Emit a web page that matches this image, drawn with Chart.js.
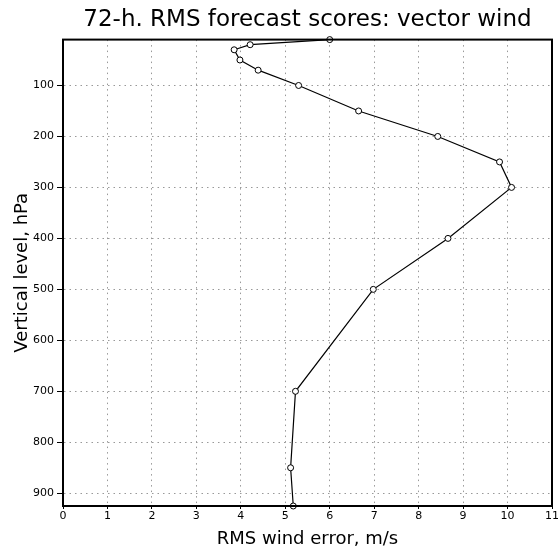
<!DOCTYPE html>
<html>
<head>
<meta charset="utf-8">
<script src="https://cdn.jsdelivr.net/npm/chart.js@4/dist/chart.umd.min.js"></script>
<style>
html,body{margin:0;padding:0;background:#fff;}
#wrap{width:560px;height:554px;}
</style>
</head>
<body>
<div id="wrap"><canvas id="c" width="560" height="554"></canvas></div>
<script>
const levels = [10, 20, 30, 50, 70, 100, 150, 200, 250, 300, 400, 500, 700, 850, 925];
const rmsError = [6.0, 4.21, 3.85, 3.98, 4.39, 5.30, 6.65, 8.43, 9.82, 10.09, 8.66, 6.98, 5.23, 5.12, 5.18];
const levelTicks = [100, 200, 300, 400, 500, 600, 700, 800, 900];
const errorTicks = [0, 1, 2, 3, 4, 5, 6, 7, 8, 9, 10, 11];

const points = levels.map((p, i) => ({x: rmsError[i], y: p}));

const frame = {
  id: 'frame',
  afterDatasetsDraw(chart) {
    const a = chart.chartArea, ctx = chart.ctx;
    ctx.save();
    ctx.strokeStyle = '#000';
    ctx.lineWidth = 2;
    ctx.strokeRect(a.left, a.top, a.right - a.left, a.bottom - a.top);
    ctx.restore();
  }
};

new Chart(document.getElementById('c'), {
  type: 'scatter',
  data: {
    datasets: [{
      data: points,
      showLine: true,
      borderColor: '#000',
      borderWidth: 1.2,
      pointRadius: 3,
      pointBackgroundColor: '#fff',
      pointBorderColor: '#000',
      pointBorderWidth: 1,
      clip: false
    }]
  },
  options: {
    responsive: false,
    animation: false,
    layout: {padding: {left: 0, right: 6, top: 0, bottom: 0}},
    plugins: {
      legend: {display: false},
      tooltip: {enabled: false},
      title: {
        display: true,
        text: '72-h. RMS forecast scores: vector wind',
        fullSize: false,
        color: '#000',
        font: {family: 'DejaVu Sans', size: 23, weight: 'normal', lineHeight: 1.2},
        padding: {top: 6, bottom: 6}
      }
    },
    scales: {
      x: {
        type: 'linear',
        min: 0, max: 11,
        afterBuildTicks: s => { s.ticks = errorTicks.map(v => ({value: v})); },
        afterFit: s => { s.height = 48; },
        ticks: {color: '#000', font: {family: 'DejaVu Sans', size: 11}, padding: 1, maxRotation: 0},
        grid: {color: '#999', lineWidth: 1, tickLength: 3, tickColor: '#000', tickBorderDash: [], borderDash: [1.5, 4]},
        border: {display: true, color: '#000', width: 2, dash: [1.5, 4]},
        title: {display: true, text: 'RMS wind error, m/s', color: '#000', font: {family: 'DejaVu Sans', size: 18}, padding: {top: 4, bottom: 4}}
      },
      y: {
        type: 'linear',
        reverse: true,
        min: 10, max: 925,
        afterBuildTicks: s => { s.ticks = levelTicks.map(v => ({value: v})); },
        afterFit: s => { s.width = 63; },
        ticks: {color: '#000', font: {family: 'DejaVu Sans', size: 11}, padding: 3},
        grid: {color: '#999', lineWidth: 1, tickLength: 6, tickColor: '#000', tickBorderDash: [], borderDash: [1.5, 4]},
        border: {display: true, color: '#000', width: 2, dash: [1.5, 4]},
        title: {display: true, text: 'Vertical level, hPa', color: '#000', font: {family: 'DejaVu Sans', size: 18}, padding: {top: 12, bottom: 4}}
      }
    }
  },
  plugins: [frame]
});
</script>
</body>
</html>
